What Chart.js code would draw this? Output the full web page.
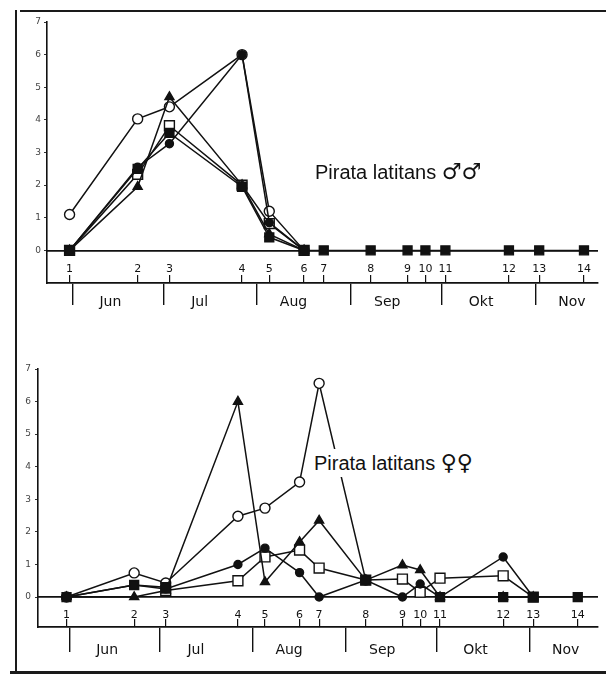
<!DOCTYPE html>
<html><head><meta charset="utf-8">
<script src="https://cdn.jsdelivr.net/npm/chart.js@4.4.0/dist/chart.umd.min.js"></script>
<style>
html,body{margin:0;padding:0;background:#fff;width:606px;height:675px;overflow:hidden;}
#wrap{position:relative;width:606px;height:675px;}
canvas{position:absolute;left:0;}
#c1{top:0}
#c2{top:330px}
.frame{position:absolute;background:#1a1a1a;}
.lbl{position:absolute;font-family:"Liberation Sans",Arial,sans-serif;font-size:20px;color:#111;background:#fff;white-space:nowrap;line-height:28px;}
.sym{font-family:"DejaVu Sans",sans-serif;font-size:22px;font-weight:bold;}
</style></head>
<body><div id="wrap">
<div class="frame" style="left:20px;top:10px;width:586px;height:2px"></div>
<div class="frame" style="left:15px;top:10px;width:2px;height:663px"></div>
<div class="frame" style="left:10px;top:671px;width:596px;height:3px"></div>
<canvas id="c1" width="606" height="330"></canvas>
<canvas id="c2" width="606" height="345"></canvas>
<div class="lbl" style="left:315px;top:158px">Pirata latitans <span class="sym">♂♂</span></div>
<div class="lbl" style="left:308px;top:449px;padding-left:6px;padding-right:4px">Pirata latitans <span class="sym">♀♀</span></div>
</div>
<script>
// ---- shared axis data ----
const sampleLabels = ['1','2','3','4','5','6','7','8','9','10','11','12','13','14'];
const sampleDays = [-1, 21.5, 32, 56, 65, 76.5, 83, 98.5, 110.7, 116.6, 123.2, 144.2, 154.2, 169];
const monthNames = ['Jun','Jul','Aug','Sep','Okt','Nov'];
const monthStartDays = [0, 30, 61, 92, 122, 153];
const monthLabelDays = [12.5, 42, 73, 104, 135, 165];
const yTickValues = [0, 1, 2, 3, 4, 5, 6, 7];

// ---- Pirata latitans males ----
const maleOpenCircle   = [1.1, 4.03, 4.4, 6.0, 1.2, 0, null, null, null, null, null, null, null, null];
const maleFilledCircle = [0, 2.55, 3.27, 6.0, 0.85, 0, null, null, null, null, null, null, null, null];
const maleOpenSquare   = [0, 2.33, 3.82, 2.0, 0.82, 0, null, null, null, null, null, null, null, null];
const maleTriangle     = [0, 1.95, 4.7, 2.0, 0.5, 0, null, null, null, null, null, null, null, null];
const maleFilledSquare = [0, 2.5, 3.6, 1.95, 0.4, 0, 0, 0, 0, 0, 0, 0, 0, 0];

// ---- Pirata latitans females ----
const femOpenCircle   = [0, 0.74, 0.43, 2.48, 2.73, 3.53, 6.56, 0.52, null, null, null, null, null, null];
const femFilledCircle = [0, 0.37, 0.25, 1.0, 1.5, 0.75, 0, 0.52, 0, 0.4, 0, 1.23, 0, null];
const femOpenSquare   = [null, null, 0.2, 0.5, 1.23, 1.44, 0.89, 0.52, 0.55, 0.15, 0.58, 0.65, 0, null];
const femTriangle     = [0, 0, 0.2, 6.0, 0.46, 1.69, 2.35, 0.52, 0.98, 0.83, 0, 0, 0, null];
const femFilledSquare = [0, 0.37, 0.3, null, null, null, null, 0.52, null, null, 0, 0, 0, 0];

const INK = '#111';
function ds(values, style, radius, filled) {
  return {
    data: values.map((v, i) => ({x: sampleDays[i], y: v})),
    borderColor: INK, borderWidth: 1.5, tension: 0, spanGaps: false,
    pointStyle: style, pointRadius: radius, pointHoverRadius: radius,
    pointBackgroundColor: filled ? INK : '#fff', pointBorderColor: INK, pointBorderWidth: 1.4,
    clip: false
  };
}
function seriesSet(fs, oc, fc, os, tr) {
  return [
    ds(fs, 'rect', 6.3, true),
    ds(fc, 'circle', 4, true),
    ds(tr, 'triangle', 5.2, true),
    ds(os, 'rect', 7, false),
    ds(oc, 'circle', 5, false)
  ];
}
function setSampleTicks(s) { s.ticks = sampleDays.map(v => ({value: v})); }

function makeChart(id, datasets, o) {
  const ppu = o.plotH / (7 - o.yMin);
  return new Chart(document.getElementById(id), {
    type: 'line',
    data: {datasets},
    options: {
      responsive: false, animation: false, events: [],
      layout: {padding: {top: o.padTop, left: 0, right: 0, bottom: 0}},
      plugins: {legend: {display: false}, tooltip: {enabled: false}},
      scales: {
        x: {
          type: 'linear', min: o.xMin, max: o.xMax, position: {y: 0},
          afterBuildTicks: setSampleTicks,
          ticks: {autoSkip: false, maxRotation: 0, padding: 4, color: INK,
                  font: {family: 'DejaVu Sans', size: 11},
                  callback: (v, i) => sampleLabels[i]},
          grid: {display: false},
          border: {display: true, color: INK, width: 1.7}
        },
        xt: {
          type: 'linear', min: o.xMin, max: o.xMax, position: {y: o.yMin + 8 / ppu},
          afterBuildTicks: setSampleTicks,
          ticks: {display: false},
          grid: {display: true, drawOnChartArea: false, drawTicks: true, tickLength: 8, color: INK, lineWidth: 1.2},
          border: {display: false}
        },
        xm: {
          type: 'linear', min: o.xMin, max: o.xMax, position: 'bottom',
          afterBuildTicks: s => {
            const t = monthStartDays.map(v => ({value: v, sep: true}))
              .concat(monthLabelDays.map((v, i) => ({value: v, name: monthNames[i]})));
            t.sort((a, b) => a.value - b.value);
            s.ticks = t;
          },
          afterFit: s => { s.height = o.monthH; },
          ticks: {autoSkip: false, maxRotation: 0, padding: o.monthPad, color: INK,
                  font: {family: 'DejaVu Sans', size: 14},
                  callback: (v, i, t) => t[i].name || ''},
          grid: {display: true, drawOnChartArea: false, drawTicks: true, tickLength: o.sepLen, lineWidth: 1.4,
                 color: c => (c.tick && c.tick.sep) ? INK : 'rgba(0,0,0,0)'},
          border: {display: true, color: INK, width: 1.8}
        },
        y: {
          type: 'linear', min: o.yMin, max: 7,
          afterBuildTicks: s => { s.ticks = yTickValues.map(v => ({value: v})); },
          afterFit: s => { s.width = o.axisW; },
          ticks: {padding: o.yPad, color: '#444', font: {family: 'DejaVu Sans', size: 9}},
          grid: {display: true, drawOnChartArea: false, drawTicks: true, tickLength: 3, color: '#333'},
          border: {display: true, color: INK, width: 1.6}
        }
      }
    }
  });
}

makeChart('c1', seriesSet(maleFilledSquare, maleOpenCircle, maleFilledCircle, maleOpenSquare, maleTriangle), {
  xMin: -8.46, xMax: 173.5, yMin: -1, plotH: 261, padTop: 22, monthH: 47,
  monthPad: -11, sepLen: 22, axisW: 47, yPad: 3
});
makeChart('c2', seriesSet(femFilledSquare, femOpenCircle, femFilledCircle, femOpenSquare, femTriangle), {
  xMin: -10.48, xMax: 175.6, yMin: -0.92, plotH: 258, padTop: 39, monthH: 48,
  monthPad: -10, sepLen: 25, axisW: 38, yPad: 4
});
</script>
</body></html>
